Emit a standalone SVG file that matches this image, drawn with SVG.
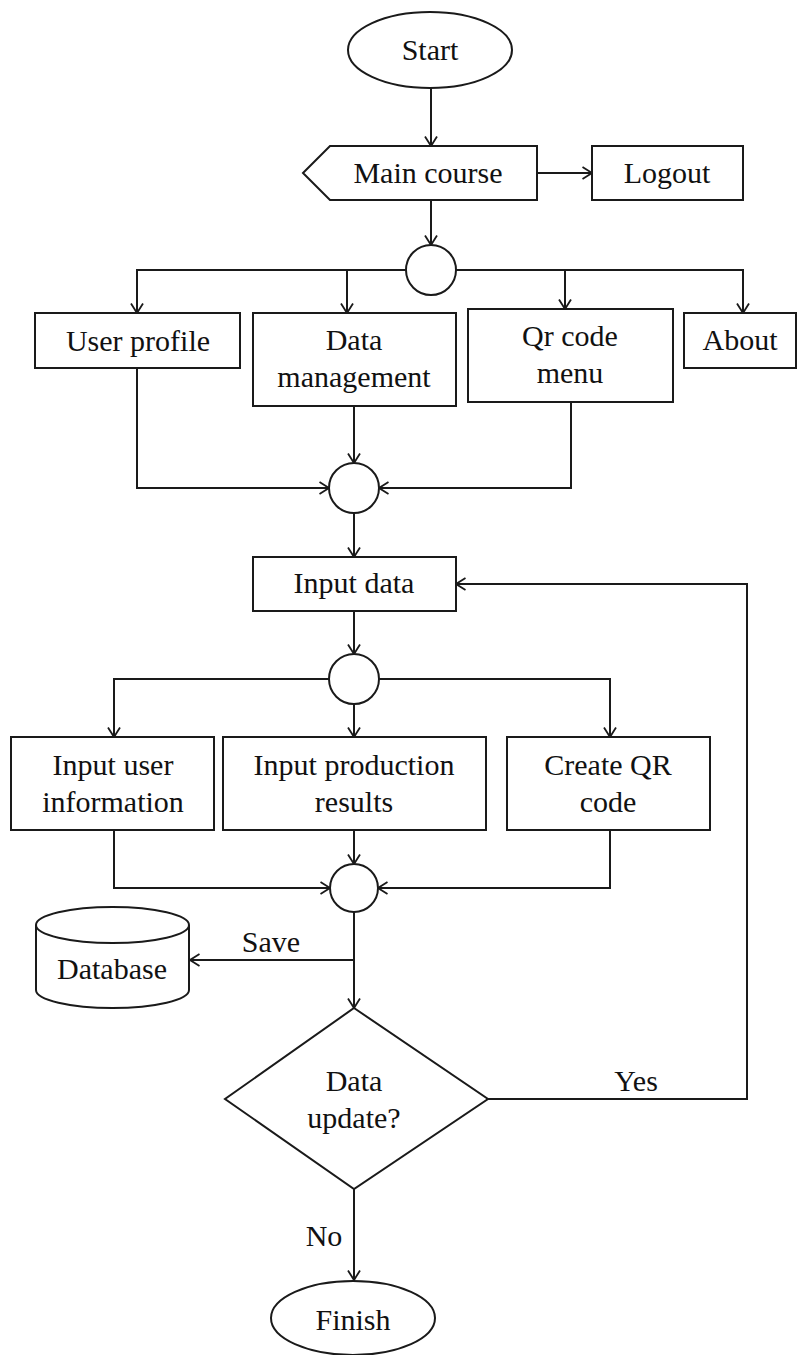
<svg xmlns="http://www.w3.org/2000/svg" width="799" height="1355" viewBox="0 0 799 1355">
<defs>
<marker id="arr" markerUnits="userSpaceOnUse" markerWidth="12" markerHeight="14" viewBox="0 0 12 14" refX="10.5" refY="7" orient="auto">
<path d="M1,1 L10.5,7 L1,13" fill="none" stroke="#1a1a1a" stroke-width="1.8"/>
</marker>
</defs>
<style>
.s{fill:#fff;stroke:#1a1a1a;stroke-width:2}
.c{fill:none;stroke:#1a1a1a;stroke-width:2;marker-end:url(#arr)}
.l{fill:none;stroke:#1a1a1a;stroke-width:2}
text{font-family:"Liberation Serif","Times New Roman",serif;font-size:30px;fill:#111;text-anchor:middle}
</style>
<rect width="799" height="1355" fill="#fff"/>
<g id="connectors">
<path class="c" d="M431,88 V146"/>
<path class="c" d="M537,173 H592"/>
<path class="c" d="M431,200 V245"/>
<path class="c" d="M406,270 H137 V313"/>
<path class="c" d="M406,270 H347 V313"/>
<path class="c" d="M456,270 H565 V309"/>
<path class="c" d="M456,270 H743 V313"/>
<path class="c" d="M137,368 V488 H329"/>
<path class="c" d="M354,406 V463"/>
<path class="c" d="M571,402 V488 H379"/>
<path class="c" d="M354,513 V557"/>
<path class="c" d="M354,611 V654"/>
<path class="c" d="M329,679 H114 V737"/>
<path class="c" d="M354,704 V737"/>
<path class="c" d="M379,679 H610 V737"/>
<path class="c" d="M114,830 V888 H330"/>
<path class="c" d="M354,830 V864"/>
<path class="c" d="M610,830 V888 H378"/>
<path class="c" d="M354,912 V1008"/>
<path class="c" d="M354,960 H190"/>
<path class="c" d="M488,1099 H747 V584 H456"/>
<path class="c" d="M354,1189 V1280"/>
<text x="271" y="952">Save</text>
<text x="636" y="1091">Yes</text>
<text x="324" y="1246">No</text>
</g>
<g id="start"><ellipse class="s" cx="430" cy="50" rx="82" ry="38"/><text x="430" y="60">Start</text></g>
<g id="main-course"><polygon class="s" points="303,173 330,146 537,146 537,200 330,200"/><text x="428" y="183">Main course</text></g>
<g id="logout"><rect class="s" x="592" y="146" width="151" height="54"/><text x="667" y="183">Logout</text></g>
<g id="junction1"><circle class="s" cx="431" cy="270" r="25"/></g>
<g id="user-profile"><rect class="s" x="35" y="313" width="205" height="55"/><text x="138" y="351">User profile</text></g>
<g id="data-management"><rect class="s" x="253" y="313" width="203" height="93"/><text x="354" y="350">Data</text><text x="354" y="387">management</text></g>
<g id="qr-code-menu"><rect class="s" x="468" y="309" width="205" height="93"/><text x="570" y="346">Qr code</text><text x="570" y="383">menu</text></g>
<g id="about"><rect class="s" x="684" y="313" width="112" height="55"/><text x="740" y="350">About</text></g>
<g id="junction2"><circle class="s" cx="354" cy="488" r="25"/></g>
<g id="input-data"><rect class="s" x="253" y="557" width="203" height="54"/><text x="354" y="593">Input data</text></g>
<g id="junction3"><circle class="s" cx="354" cy="679" r="25"/></g>
<g id="input-user"><rect class="s" x="11" y="737" width="203" height="93"/><text x="113" y="775">Input user</text><text x="113" y="812">information</text></g>
<g id="input-production"><rect class="s" x="223" y="737" width="263" height="93"/><text x="354" y="775">Input production</text><text x="354" y="812">results</text></g>
<g id="create-qr"><rect class="s" x="507" y="737" width="203" height="93"/><text x="608" y="775">Create QR</text><text x="608" y="812">code</text></g>
<g id="junction4"><circle class="s" cx="354" cy="888" r="24"/></g>
<g id="database"><path class="s" d="M36,925 A76.5,18 0 0 1 189,925 V990 A76.5,18 0 0 1 36,990 Z"/><path class="l" d="M36,925 A76.5,18 0 0 0 189,925"/><text x="112" y="979">Database</text></g>
<g id="data-update"><polygon class="s" points="354,1008 488,1099 354,1189 225,1099"/><text x="354" y="1091">Data</text><text x="354" y="1128">update?</text></g>
<g id="finish"><ellipse class="s" cx="353" cy="1318" rx="82" ry="37"/><text x="353" y="1330">Finish</text></g>
</svg>
